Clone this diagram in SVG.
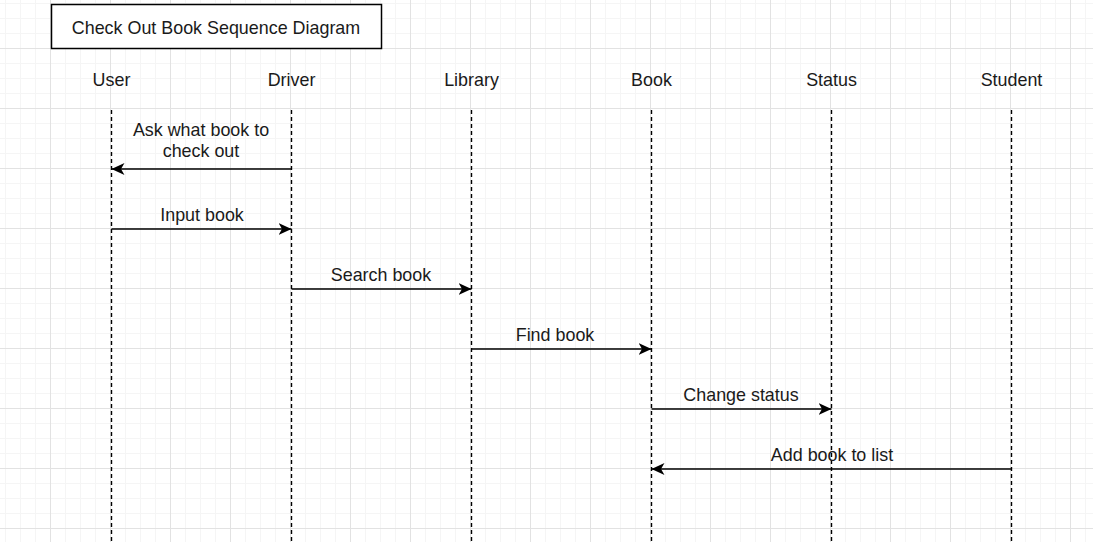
<svg xmlns="http://www.w3.org/2000/svg" width="1093" height="542" viewBox="0 0 1093 542">
  <defs>
    <pattern id="grid" patternUnits="userSpaceOnUse" x="-10" y="-12" width="60" height="60">
      <path d="M15.5,0 V60 M30.5,0 V60 M45.5,0 V60 M0,15.5 H60 M0,30.5 H60 M0,45.5 H60" stroke="#f5f5f5" stroke-width="1" fill="none"/>
      <path d="M0.5,0 V60 M0,0.5 H60" stroke="#e2e2e2" stroke-width="1" fill="none"/>
    </pattern>
    <marker id="arrow" markerUnits="userSpaceOnUse" markerWidth="15" markerHeight="13" refX="13" refY="6" orient="auto">
      <path d="M0,0 L13,6 L0,12 L3.5,6 Z" fill="#000"/>
    </marker>
  </defs>
  <style>
    text { font-family: "Liberation Sans", Arial, sans-serif; font-size: 17.9px; fill: #1a1a1a; text-anchor: middle; }
    .life { stroke: #000; stroke-width: 1.4; stroke-dasharray: 4 3; fill: none; }
    .msg { stroke: #000; stroke-width: 1.5; fill: none; marker-end: url(#arrow); }
  </style>
  <rect width="1093" height="542" fill="#ffffff"/>
  <rect width="1093" height="542" fill="url(#grid)"/>

  <g id="title">
    <rect x="51.5" y="4.5" width="330" height="44" fill="#ffffff" stroke="#000" stroke-width="1.5"/>
    <text x="216" y="34">Check Out Book Sequence Diagram</text>
  </g>

  <g id="user">
    <text x="111.5" y="86">User</text>
    <line class="life" x1="111.5" y1="110" x2="111.5" y2="542"/>
  </g>
  <g id="driver">
    <text x="291.5" y="86">Driver</text>
    <line class="life" x1="291.5" y1="110" x2="291.5" y2="542"/>
  </g>
  <g id="library">
    <text x="471.5" y="86">Library</text>
    <line class="life" x1="471.5" y1="110" x2="471.5" y2="542"/>
  </g>
  <g id="book">
    <text x="651.5" y="86">Book</text>
    <line class="life" x1="651.5" y1="110" x2="651.5" y2="542"/>
  </g>
  <g id="status">
    <text x="831.5" y="86">Status</text>
    <line class="life" x1="831.5" y1="110" x2="831.5" y2="542"/>
  </g>
  <g id="student">
    <text x="1011.5" y="86">Student</text>
    <line class="life" x1="1011.5" y1="110" x2="1011.5" y2="542"/>
  </g>

  <g id="connectors">
    <line class="msg" x1="291.5" y1="169" x2="111.5" y2="169"/>
    <text x="201" y="136">Ask what book to</text>
    <text x="201" y="157">check out</text>

    <line class="msg" x1="111.5" y1="229" x2="291.5" y2="229"/>
    <text x="202" y="221">Input book</text>

    <line class="msg" x1="291.5" y1="289" x2="471.5" y2="289"/>
    <text x="381" y="281">Search book</text>

    <line class="msg" x1="471.5" y1="349" x2="651.5" y2="349"/>
    <text x="555" y="341">Find book</text>

    <line class="msg" x1="651.5" y1="409" x2="831.5" y2="409"/>
    <text x="741" y="401">Change status</text>

    <line class="msg" x1="1011.5" y1="469" x2="651.5" y2="469"/>
    <text x="832" y="461">Add book to list</text>
  </g>
</svg>
